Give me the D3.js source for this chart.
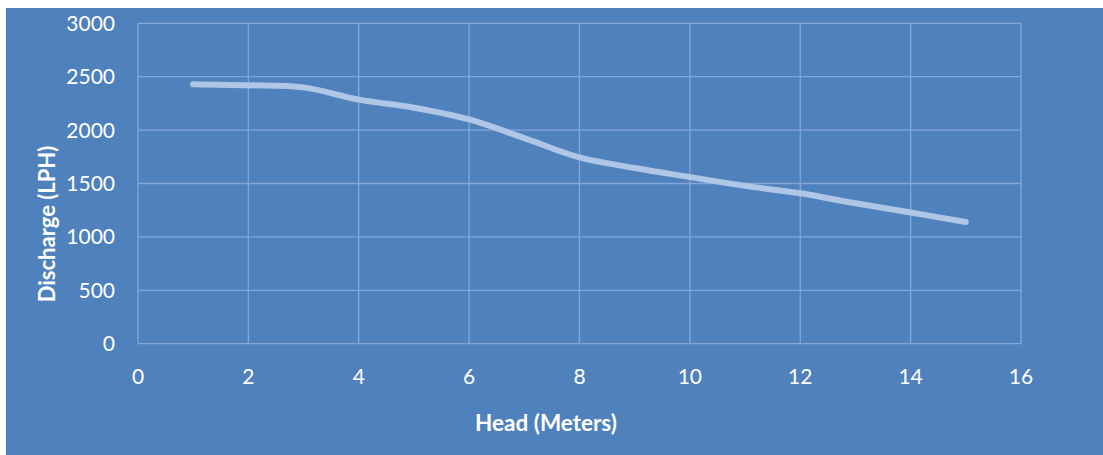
<!DOCTYPE html>
<html><head><meta charset="utf-8">
<script src="https://cdn.jsdelivr.net/npm/d3@7"></script>
<style>
html,body{margin:0;padding:0;background:#fff;}
svg{display:block;}
text{font-family:Lato,"Open Sans",sans-serif;fill:#fff;}
</style></head>
<body>
<svg id="c" width="1103" height="455"></svg>
<script>
const head = [1,2,3,4,5,6,7,8,9,10,11,12,13,14,15];
const discharge = [2430,2420,2400,2285,2210,2100,1925,1745,1645,1560,1478,1408,1315,1228,1140];
const xTicks = [0,2,4,6,8,10,12,14,16];
const yTicks = [0,500,1000,1500,2000,2500,3000];
const xTitle = "Head (Meters)";
const yTitle = "Discharge (LPH)";

const svg = d3.select("#c");
svg.append("rect").attr("x",6).attr("y",8).attr("width",1097).attr("height",447).attr("fill","#4F81BD");

const x = d3.scaleLinear().domain([0,16]).range([138,1021]);
const y = d3.scaleLinear().domain([0,3000]).range([343.7,23.3]);

const g = svg.append("g");
g.selectAll(".hg").data(yTicks).join("line")
  .attr("x1",x(0)).attr("x2",x(16)).attr("y1",d=>y(d)).attr("y2",d=>y(d))
  .attr("stroke","#86A7D5").attr("stroke-width",1.3);
g.selectAll(".vg").data(xTicks).join("line")
  .attr("y1",y(0)).attr("y2",y(3000)).attr("x1",d=>x(d)).attr("x2",d=>x(d))
  .attr("stroke","#86A7D5").attr("stroke-width",1.3);

g.selectAll(".yl").data(yTicks).join("text")
  .attr("x",115).attr("y",d=>y(d)).attr("dy","0.36em")
  .attr("text-anchor","end").attr("font-size",21).text(d=>d);
g.selectAll(".xl").data(xTicks).join("text")
  .attr("x",d=>x(d)).attr("y",376).attr("dy","0.36em")
  .attr("text-anchor","middle").attr("font-size",21).text(d=>d);

svg.append("text").attr("x",546).attr("y",423).attr("dy","0.36em")
  .attr("text-anchor","middle").attr("font-size",22.5).attr("font-weight","bold").text(xTitle);
svg.append("text").attr("transform","translate(47,224) rotate(-90)").attr("dy","0.36em")
  .attr("text-anchor","middle").attr("font-size",22).attr("font-weight","bold").text(yTitle);

const line = d3.line().x((d,i)=>x(head[i])).y(d=>y(d)).curve(d3.curveCatmullRom.alpha(0.5));
svg.append("path").datum(discharge).attr("d",line)
  .attr("fill","none").attr("stroke","#AFC6E6").attr("stroke-width",6)
  .attr("stroke-linecap","round").attr("stroke-linejoin","round");
</script>
</body></html>
